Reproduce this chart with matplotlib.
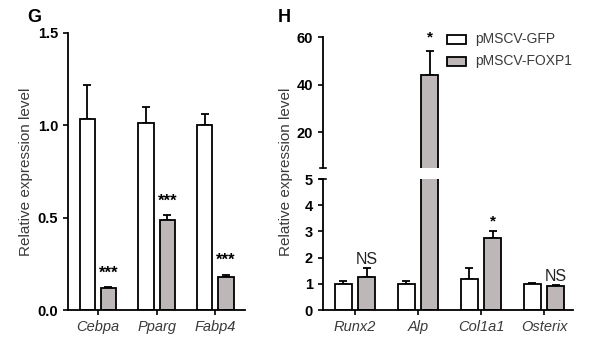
import matplotlib
matplotlib.use("Agg")
import matplotlib.pyplot as plt
import numpy as np
from matplotlib.patches import Rectangle

plt.rcParams["font.family"] = ["Liberation Sans", "DejaVu Sans"]

# --- data ---
g_genes = ["Cebpa", "Pparg", "Fabp4"]
g_gfp = [1.035, 1.01, 1.0]
g_gfp_err = [0.185, 0.09, 0.06]
g_foxp1 = [0.12, 0.49, 0.18]
g_foxp1_err = [0.006, 0.025, 0.012]
g_marks = ["***", "***", "***"]

h_genes = ["Runx2", "Alp", "Col1a1", "Osterix"]
h_gfp = [1.0, 1.0, 1.2, 1.0]
h_gfp_err = [0.1, 0.1, 0.42, 0.05]
h_foxp1 = [1.25, 44.0, 2.75, 0.9]
h_foxp1_err = [0.35, 10.0, 0.25, 0.05]
h_marks = ["NS", "*", "*", "NS"]

legend_labels = ["pMSCV-GFP", "pMSCV-FOXP1"]

GREY = "#bdb7b7"
TXT = "#3a3a3a"
W = 0.27
OFF = 0.185

fig = plt.figure(figsize=(6.0, 3.43), dpi=100)


def style(ax):
    for s in ["top", "right"]:
        ax.spines[s].set_visible(False)
    for s in ["left", "bottom"]:
        ax.spines[s].set_linewidth(1.3)
    ax.tick_params(width=1.2, length=3.5, labelsize=10.5)
    for lab in ax.get_yticklabels():
        lab.set_fontweight("bold")


def bars(ax, x, vals, errs, color, width):
    ax.bar(x, vals, width, color=color, edgecolor="black", linewidth=1.3, zorder=2)
    ax.errorbar(x, vals, yerr=[np.zeros(len(vals)), errs], fmt="none",
                ecolor="black", elinewidth=1.3, capsize=3, capthick=1.3, zorder=1)


# --- panel G ---
axg = fig.add_axes([0.113, 0.096, 0.295, 0.808])
xg = np.arange(len(g_genes))
bars(axg, xg - 0.18, g_gfp, g_gfp_err, "white", 0.26)
bars(axg, xg + 0.18, g_foxp1, g_foxp1_err, GREY, 0.26)
for xi, v, e, m in zip(xg, g_foxp1, g_foxp1_err, g_marks):
    axg.text(xi + 0.18, v + e + 0.035, m, ha="center", va="bottom", fontsize=12, fontweight="bold")
axg.set_ylim(0, 1.5)
axg.set_xlim(-0.51, 2.5)
axg.set_yticks([0.0, 0.5, 1.0, 1.5])
axg.set_xticks(xg)
axg.set_xticklabels(g_genes, fontstyle="italic", color=TXT)
style(axg)
axg.tick_params(axis="x", labelsize=10.5)
axg.set_ylabel("Relative expression level", fontsize=11, color=TXT, labelpad=3)
fig.text(0.045, 0.935, "G", fontsize=13, fontweight="bold")

# --- panel H (broken y axis) ---
xh = np.arange(len(h_genes))
axl = fig.add_axes([0.538, 0.096, 0.417, 0.382])
axu = fig.add_axes([0.538, 0.510, 0.417, 0.382], sharex=axl)
for ax in (axl, axu):
    bars(ax, xh - OFF, h_gfp, h_gfp_err, "white", W)
    bars(ax, xh + OFF, h_foxp1, h_foxp1_err, GREY, W)
    ax.set_xlim(-0.51, 3.46)

axl.set_ylim(0, 5)
axl.set_yticks([0, 1, 2, 3, 4, 5])
axl.set_xticks(xh)
axl.set_xticklabels(h_genes, fontstyle="italic", color=TXT)
style(axl)

axu.set_ylim(5, 60)
axu.set_yticks([5, 20, 40, 60])
axu.set_yticklabels(["", "20", "40", "60"])
axu.spines["bottom"].set_visible(False)
axu.tick_params(axis="x", bottom=False, labelbottom=False)
style(axu)
axu.get_yticklines()[0].set_visible(False)
# end caps at the axis break
for ax in (axu, axl):
    ax.plot([-0.51 - 0.05, -0.51 + 0.05], [5, 5], color="black", lw=1.2,
            clip_on=False, zorder=3)

for xi, v, e, m in zip(xh, h_foxp1, h_foxp1_err, h_marks):
    top = v + e
    ax = axu if top > 5 else axl
    if m == "*":
        pad = 3.0 if ax is axu else 0.12
        ax.text(xi + OFF, top + pad, m, ha="center", va="bottom", fontsize=11, fontweight="bold")
    else:
        ax.text(xi + OFF, top + 0.05, m, ha="center", va="bottom", fontsize=11.5, color="#222222")

fig.text(0.477, 0.5, "Relative expression level", rotation=90, fontsize=11,
         color=TXT, ha="center", va="center")
fig.text(0.463, 0.935, "H", fontsize=13, fontweight="bold")

# legend boxes
for i, (lab, col) in enumerate(zip(legend_labels, ["white", GREY])):
    yb = 1 - (44 + 22 * i) / 343
    fig.patches.append(Rectangle((447 / 600, yb), 19 / 600, 9 / 343, transform=fig.transFigure,
                                 facecolor=col, edgecolor="black", linewidth=1.3))
    fig.text(475 / 600, yb + 4.5 / 343, lab, fontsize=10, color=TXT, va="center")

plt.savefig("out.png", dpi=100)
plt.close()
